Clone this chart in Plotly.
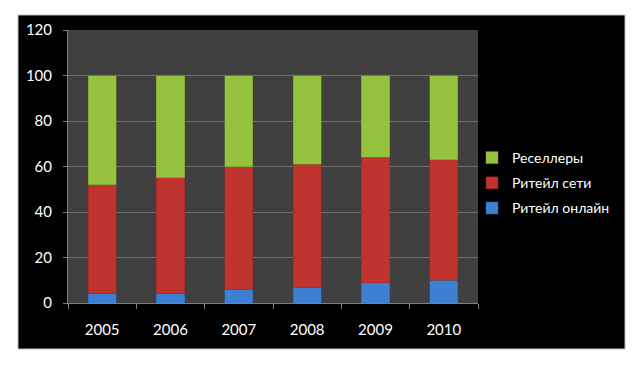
import plotly.graph_objects as go

years = ["2005", "2006", "2007", "2008", "2009", "2010"]
online = [4, 4, 6, 7, 9, 10]
retail = [48, 51, 54, 54, 55, 53]
resellers = [48, 45, 40, 39, 36, 37]

W, H = 640, 370
L, R, T, B = 68, 478, 30, 303  # plot area in pixels

def px_x(px):
    return (px - L) / (R - L)

def px_y(py):
    return (B - py) / (B - T)

font = dict(family="Lato, Carlito, Liberation Sans, sans-serif", size=15, color="white")

fig = go.Figure()
fig.add_trace(go.Bar(x=years, y=online, name="Ритейл онлайн", legendgroup="a", legendrank=3,
                     marker=dict(color="#3d7fd3", line=dict(color="#2a5fa3", width=0.5))))
fig.add_trace(go.Bar(x=years, y=retail, name="Ритейл сети", legendgroup="b", legendrank=2,
                     marker=dict(color="#c0332f", line=dict(color="#8f2522", width=0.5))))
fig.add_trace(go.Bar(x=years, y=resellers, name="Реселлеры", legendgroup="c", legendrank=1,
                     marker=dict(color="#95c23f", line=dict(color="#6e9030", width=0.5))))

white = "white"
shapes = [
    dict(type="rect", xref="paper", yref="paper", layer="below",
         x0=px_x(0), x1=px_x(W), y0=px_y(0), y1=px_y(15), fillcolor=white, line_width=0),
    dict(type="rect", xref="paper", yref="paper", layer="below",
         x0=px_x(0), x1=px_x(W), y0=px_y(349), y1=px_y(H), fillcolor=white, line_width=0),
    dict(type="rect", xref="paper", yref="paper", layer="below",
         x0=px_x(0), x1=px_x(18), y0=px_y(0), y1=px_y(H), fillcolor=white, line_width=0),
    dict(type="rect", xref="paper", yref="paper", layer="below",
         x0=px_x(625), x1=px_x(W), y0=px_y(0), y1=px_y(H), fillcolor=white, line_width=0),
    dict(type="rect", xref="paper", yref="paper", layer="below",
         x0=px_x(18), x1=px_x(625), y0=px_y(15), y1=px_y(349),
         fillcolor="rgba(0,0,0,0)", line=dict(color="#bdbdbd", width=1)),
]

fig.update_layout(
    width=W, height=H,
    barmode="stack", bargap=0.59,
    paper_bgcolor="black", plot_bgcolor="#404040",
    margin=dict(l=L, r=W - R, t=T, b=H - B, pad=0, autoexpand=False),
    font=font,
    showlegend=True,
    legend=dict(xref="container", yref="container", x=472 / W, y=1 - 142 / H,
                xanchor="left", yanchor="top",
                traceorder="grouped", font=dict(size=14, color="white"),
                bgcolor="rgba(0,0,0,0)", itemwidth=30, tracegroupgap=4),
    shapes=shapes,
    xaxis=dict(type="category", tickson="boundaries", ticks="outside", ticklen=5,
               tickcolor="#7f7f7f", showline=True, linecolor="#7f7f7f", linewidth=1,
               showgrid=False, tickfont=font, fixedrange=True, automargin=False,
               ticklabelstandoff=13),
    yaxis=dict(range=[0, 120], dtick=20, ticks="outside", ticklen=4, tickcolor="#7f7f7f",
               showgrid=True, gridcolor="#6e6e6e", gridwidth=1,
               showline=True, linecolor="#7f7f7f", zeroline=False,
               tickfont=font, fixedrange=True, automargin=False,
               ticklabelstandoff=8),
)

fig.write_html("out.html", config={"displayModeBar": False},
               post_script="document.body.style.margin='0';")
